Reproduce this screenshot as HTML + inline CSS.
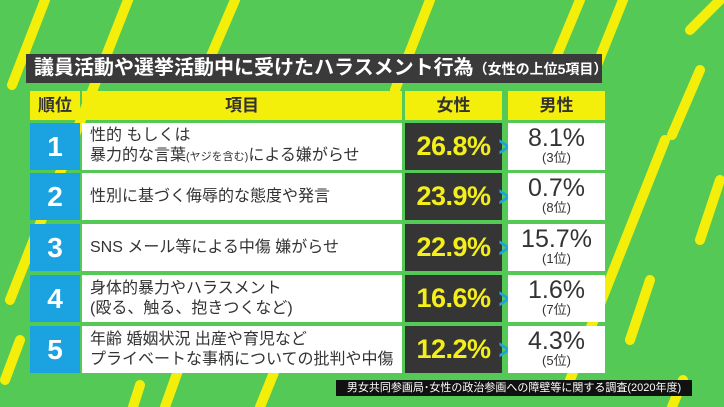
<!DOCTYPE html>
<html><head><meta charset="utf-8"><style>
*{margin:0;padding:0;box-sizing:border-box}
body{width:724px;height:407px;background:#55c955;position:relative;overflow:hidden;font-family:"Liberation Sans","Noto Sans CJK JP",sans-serif;color:#333}
.a{position:absolute}
.title{left:26px;top:54px;width:576px;height:29px;background:#3a3a3a;color:#fff;font-size:20px;font-weight:bold;line-height:29px;padding-left:8px;white-space:nowrap}
.title small{font-size:14px}
.hd{background:#f4ef0a;top:91px;height:29px;font-size:17px;font-weight:bold;text-align:center;line-height:29px;color:#333}
.rk{left:30px;width:50px;height:47px;background:#1aa3e0;color:#fff;font-size:28px;font-weight:bold;text-align:center;line-height:47px}
.it{left:82px;width:320px;height:47px;background:#fff;font-size:16px;line-height:20px;padding-left:8px;display:flex;flex-direction:column;justify-content:center;white-space:nowrap}
.fv{left:405px;width:97px;height:47px;background:#353535;color:#f4ef1a;font-size:27px;font-weight:bold;text-align:center;line-height:47px;letter-spacing:-0.5px}
.mv{left:508px;width:97px;height:47px;background:#fff;text-align:center;font-size:25px;line-height:24px;padding-top:3px}
.mv span{display:block;font-size:13px;line-height:16px}
.ch{left:496px;width:14px;z-index:5;color:#1aa3e0;font-size:28px;font-weight:bold;line-height:47px;transform:scaleX(.6)}
.src{left:336px;top:380px;width:356px;height:16px;background:#111;color:#fff;font-size:11px;line-height:16px;text-align:center;white-space:nowrap}
</style></head><body>
<svg class="a" style="left:0;top:0" width="724" height="407"><g stroke="#f4ef0a" stroke-width="10" stroke-linecap="round">
<line x1="45" y1="0" x2="12" y2="85"/><line x1="130" y1="-5" x2="10" y2="300"/>
<line x1="235" y1="0" x2="205" y2="70"/><line x1="430" y1="0" x2="395" y2="90"/>
<line x1="580" y1="0" x2="555" y2="60"/><line x1="625" y1="-5" x2="595" y2="70"/>
<line x1="700" y1="70" x2="672" y2="135"/><line x1="665" y1="140" x2="570" y2="380"/>
<line x1="720" y1="0" x2="690" y2="30"/><line x1="720" y1="180" x2="700" y2="240"/>
<line x1="650" y1="280" x2="630" y2="340"/><line x1="683" y1="380" x2="672" y2="407"/>
<line x1="20" y1="340" x2="5" y2="380"/><line x1="180" y1="365" x2="165" y2="407"/><line x1="275" y1="370" x2="260" y2="407"/><line x1="140" y1="385" x2="133" y2="407"/>
</g></svg>
<div class="a title">議員活動や選挙活動中に受けたハラスメント行為<small>（女性の上位5項目）</small></div>
<div class="a hd" style="left:30px;width:50px">順位</div>
<div class="a hd" style="left:82px;width:320px">項目</div>
<div class="a hd" style="left:405px;width:97px">女性</div>
<div class="a hd" style="left:508px;width:97px">男性</div>

<div class="a rk" style="top:123px">1</div>
<div class="a it" style="top:123px"><div>性的 もしくは</div><div>暴力的な言葉<span style="font-size:11px">(ヤジを含む)</span>による嫌がらせ</div></div>
<div class="a fv" style="top:123px">26.8%</div>
<div class="a mv" style="top:123px">8.1%<span>(3位)</span></div><div class="a ch" style="top:123px">&gt;</div>

<div class="a rk" style="top:173px">2</div>
<div class="a it" style="top:173px"><div>性別に基づく侮辱的な態度や発言</div></div>
<div class="a fv" style="top:173px">23.9%</div>
<div class="a mv" style="top:173px">0.7%<span>(8位)</span></div><div class="a ch" style="top:173px">&gt;</div>

<div class="a rk" style="top:224px">3</div>
<div class="a it" style="top:224px"><div>SNS メール等による中傷 嫌がらせ</div></div>
<div class="a fv" style="top:224px">22.9%</div>
<div class="a mv" style="top:224px">15.7%<span>(1位)</span></div><div class="a ch" style="top:224px">&gt;</div>

<div class="a rk" style="top:275px">4</div>
<div class="a it" style="top:275px"><div>身体的暴力やハラスメント</div><div>(殴る、触る、抱きつくなど)</div></div>
<div class="a fv" style="top:275px">16.6%</div>
<div class="a mv" style="top:275px">1.6%<span>(7位)</span></div><div class="a ch" style="top:275px">&gt;</div>

<div class="a rk" style="top:326px">5</div>
<div class="a it" style="top:326px"><div>年齢 婚姻状況 出産や育児など</div><div>プライベートな事柄についての批判や中傷</div></div>
<div class="a fv" style="top:326px">12.2%</div>
<div class="a mv" style="top:326px">4.3%<span>(5位)</span></div><div class="a ch" style="top:326px">&gt;</div>

<div class="a src">男女共同参画局･女性の政治参画への障壁等に関する調査(2020年度)</div>
</body></html>
